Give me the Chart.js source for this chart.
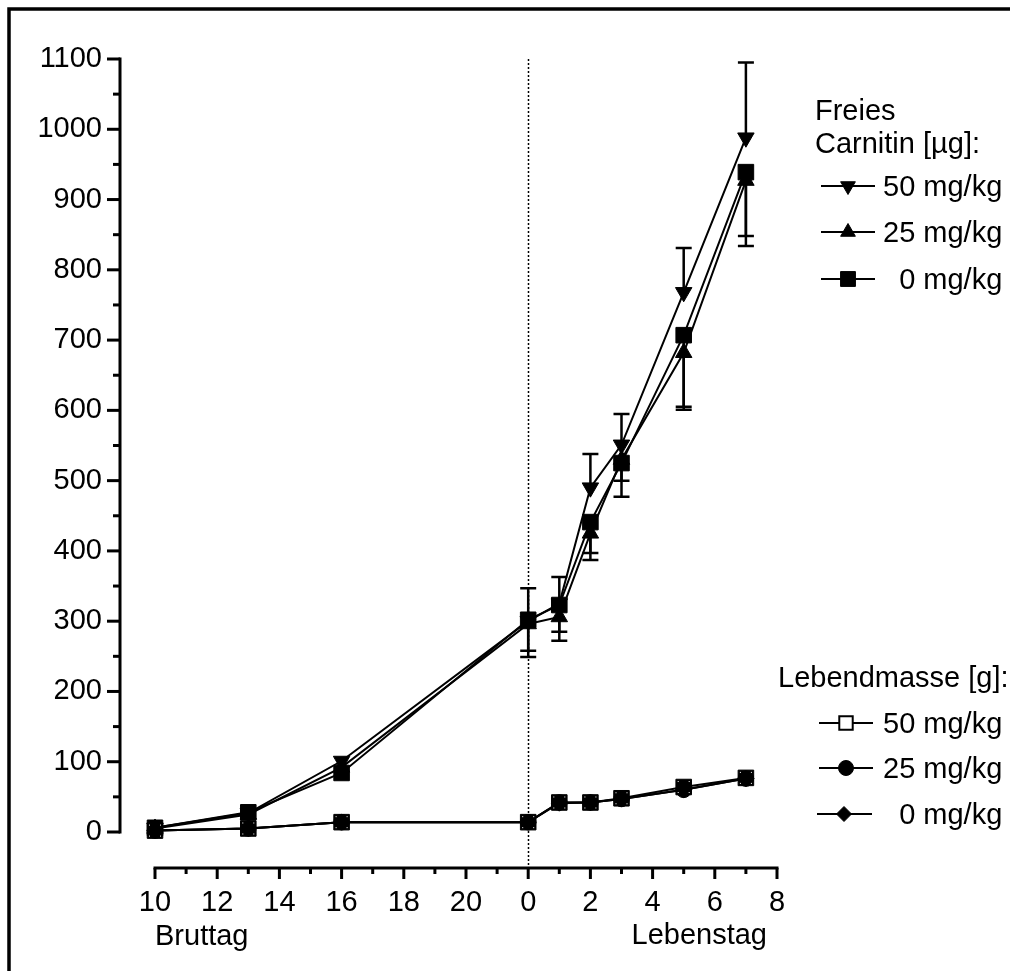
<!DOCTYPE html>
<html><head><meta charset="utf-8">
<script src="https://cdn.jsdelivr.net/npm/chart.js@4/dist/chart.umd.min.js"></script>
<style>html,body{margin:0;padding:0;background:#fff;} canvas{display:block;}</style>
</head><body>
<canvas id="c" width="1010" height="971"></canvas>
<script>
// ---- data ----
const dayLabels = ['Bruttag 10','Bruttag 13','Bruttag 16','Lebenstag 0','Lebenstag 1','Lebenstag 2','Lebenstag 3','Lebenstag 5','Lebenstag 7'];
const xPositions = [10, 13, 16, 22, 23, 24, 25, 27, 29]; // Bruttag d -> d, Lebenstag d -> 22 + d
const hatchPosition = 22;

const carnitin50 = [6, 27, 101, 300, 325, 490, 551, 768, 988];
const carnitin50ErrUp = [0, 0, 0, 47, 38, 48, 44, 63, 107];
const carnitin25 = [5, 25, 92, 296, 306, 425, 530, 682, 927];
const carnitin25ErrDown = [0, 0, 0, 47, 34, 38, 30, 81, 93];
const carnitin0 = [6, 28, 84, 302, 323, 441, 525, 707, 939];
const carnitin0ErrDown = [0, 0, 0, 44, 38, 44, 48, 102, 91];

const mass50 = [2, 5, 14, 14, 42, 42, 48, 64, 77];
const mass25 = [2, 5, 14, 14, 42, 42, 47, 60, 76];
const mass0  = [2, 5, 14, 14, 41, 42, 47, 60, 76];

const xTickValues = [10, 12, 14, 16, 18, 20, 22, 24, 26, 28, 30];
const xTickLabels = ['10', '12', '14', '16', '18', '20', '0', '2', '4', '6', '8'];
const yTickValues = [0, 100, 200, 300, 400, 500, 600, 700, 800, 900, 1000, 1100];
const yTickLabels = ['0', '100', '200', '300', '400', '500', '600', '700', '800', '900', '1000', '1100'];

const carnitinTitle = ['Freies', 'Carnitin [µg]:'];
const massTitle = 'Lebendmasse [g]:';
const doseLabels = ['50 mg/kg', '25 mg/kg', '0 mg/kg'];

const FONT = "'Liberation Sans', Arial, Helvetica, sans-serif";
const FS = 29;
Chart.defaults.font.family = FONT;
Chart.defaults.font.size = FS;
Chart.defaults.color = '#000';

function pts(vals) { return vals.map((v, i) => ({ x: xPositions[i], y: v })); }

const base = { borderColor: '#000', borderWidth: 2, pointBorderColor: '#000', pointBackgroundColor: '#000', pointBorderWidth: 1, tension: 0, clip: false };

const datasets = [
  Object.assign({}, base, { label: 'Carnitin 50 mg/kg', data: pts(carnitin50), errUp: carnitin50ErrUp, pointStyle: 'triangle', pointRotation: 180, pointRadius: 9.5 }),
  Object.assign({}, base, { label: 'Carnitin 25 mg/kg', data: pts(carnitin25), errDown: carnitin25ErrDown, pointStyle: 'triangle', pointRadius: 9.5 }),
  Object.assign({}, base, { label: 'Carnitin 0 mg/kg', data: pts(carnitin0), errDown: carnitin0ErrDown, pointStyle: 'rect', pointRadius: 11 }),
  Object.assign({}, base, { label: 'Lebendmasse 0 mg/kg', data: pts(mass0), pointStyle: 'rectRot', pointRadius: 8 }),
  Object.assign({}, base, { label: 'Lebendmasse 25 mg/kg', data: pts(mass25), pointStyle: 'circle', pointRadius: 7.8 }),
  Object.assign({}, base, { label: 'Lebendmasse 50 mg/kg', data: pts(mass50), pointStyle: 'rect', pointRadius: 11, pointBackgroundColor: '#000', pointBorderWidth: 1 })
];

const decorPlugin = {
  id: 'decor',
  beforeDatasetsDraw(chart) {
    const ctx = chart.ctx, xs = chart.scales.x, ys = chart.scales.y;
    const axisY = ys.bottom + 36;
    ctx.save();
    ctx.strokeStyle = '#000'; ctx.lineWidth = 1.5; ctx.setLineDash([2, 2]);
    const hx = Math.round(xs.getPixelForValue(hatchPosition)) + 0.5;
    ctx.beginPath(); ctx.moveTo(hx, ys.getPixelForValue(1100)); ctx.lineTo(hx, axisY); ctx.stroke();
    ctx.setLineDash([]);
    ctx.lineWidth = 2.5;
    chart.data.datasets.forEach(ds => {
      ['errUp', 'errDown'].forEach(k => {
        if (!ds[k]) return;
        ds[k].forEach((e, i) => {
          if (!e) return;
          const px = xs.getPixelForValue(ds.data[i].x);
          const v0 = ds.data[i].y, v1 = k === 'errUp' ? v0 + e : v0 - e;
          const p0 = ys.getPixelForValue(v0), p1 = ys.getPixelForValue(v1);
          ctx.beginPath(); ctx.moveTo(px, p0); ctx.lineTo(px, p1);
          ctx.moveTo(px - 8, p1); ctx.lineTo(px + 8, p1); ctx.stroke();
        });
      });
    });
    ctx.restore();
  },
  afterDatasetsDraw(chart) {
    const ctx = chart.ctx, xs = chart.scales.x, ys = chart.scales.y;
    ctx.save();
    ctx.fillStyle = '#fff';
    mass50.forEach((v, i) => {
      const px = xs.getPixelForValue(xPositions[i]), py = ys.getPixelForValue(v);
      [[-1, -1], [1, -1], [-1, 1], [1, 1]].forEach(([sx, sy]) => ctx.fillRect(px + sx * 5.5 - 0.5, py + sy * 5.5 - 0.5, 1, 1));
    });
    ctx.restore();
  },
  afterDraw(chart) {
    const ctx = chart.ctx, xs = chart.scales.x, ys = chart.scales.y;
    ctx.save();
    ctx.strokeStyle = '#000'; ctx.fillStyle = '#000';
    ctx.lineWidth = 3.5;
    ctx.beginPath(); ctx.moveTo(9, 971); ctx.lineTo(9, 9); ctx.lineTo(1010, 9); ctx.stroke();
    const yAxisX = 120;
    ctx.lineWidth = 3;
    ctx.beginPath(); ctx.moveTo(yAxisX, ys.getPixelForValue(1100) - 1.5); ctx.lineTo(yAxisX, ys.getPixelForValue(0) + 1.5); ctx.stroke();
    for (let v = 0; v <= 1100; v += 50) {
      const py = ys.getPixelForValue(v);
      const len = v % 100 === 0 ? 13 : 7;
      ctx.beginPath(); ctx.moveTo(yAxisX, py); ctx.lineTo(yAxisX - len, py); ctx.stroke();
    }
    const axisY = ys.bottom + 36;
    ctx.beginPath(); ctx.moveTo(xs.getPixelForValue(10) - 1.5, axisY); ctx.lineTo(xs.getPixelForValue(30) + 1.5, axisY); ctx.stroke();
    for (let v = 10; v <= 30; v += 1) {
      const px = xs.getPixelForValue(v);
      const len = v % 2 === 0 ? 11 : 6;
      ctx.beginPath(); ctx.moveTo(px, axisY); ctx.lineTo(px, axisY + len); ctx.stroke();
    }
    ctx.font = FS + 'px ' + FONT;
    ctx.textBaseline = 'alphabetic';
    ctx.textAlign = 'left';
    ctx.fillText('Bruttag', 155, 945);
    ctx.textAlign = 'right';
    ctx.fillText('Lebenstag', 767, 944);
    ctx.textAlign = 'left';
    ctx.fillText(carnitinTitle[0], 815, 120);
    ctx.fillText(carnitinTitle[1], 815, 153);
    ctx.fillText(massTitle, 778, 687);
    const textLeft = 883;
    const fullW = ctx.measureText(doseLabels[0]).width;
    function item(y, x0, x1, mx, style, label) {
      ctx.lineWidth = 2; ctx.strokeStyle = '#000';
      ctx.beginPath(); ctx.moveTo(x0, y); ctx.lineTo(x1, y); ctx.stroke();
      ctx.fillStyle = style.fill || '#000';
      ctx.lineWidth = style.borderWidth;
      Chart.helpers.drawPoint(ctx, { pointStyle: style.pointStyle, radius: style.radius, rotation: style.rotation || 0, borderWidth: style.borderWidth }, mx, y);
      ctx.fillStyle = '#000';
      ctx.textAlign = 'right';
      ctx.fillText(label, textLeft + fullW, y + 10);
    }
    item(186, 821, 875, 848, { pointStyle: 'triangle', rotation: 180, radius: 8.5, borderWidth: 1 }, doseLabels[0]);
    item(232, 821, 875, 848, { pointStyle: 'triangle', radius: 8.5, borderWidth: 1 }, doseLabels[1]);
    item(279, 821, 875, 848, { pointStyle: 'rect', radius: 10.5, borderWidth: 1 }, doseLabels[2]);
    item(723, 819, 873, 846, { pointStyle: 'rect', radius: 9.5, borderWidth: 2, fill: '#fff' }, doseLabels[0]);
    item(768, 819, 873, 846, { pointStyle: 'circle', radius: 7.5, borderWidth: 1 }, doseLabels[1]);
    item(814, 817, 872, 844, { pointStyle: 'rectRot', radius: 7.5, borderWidth: 1 }, doseLabels[2]);
    ctx.restore();
  }
};

new Chart(document.getElementById('c'), {
  type: 'line',
  data: { datasets },
  options: {
    responsive: false,
    animation: false,
    events: [],
    layout: { padding: { top: 59, right: 233, left: 0, bottom: 0 } },
    plugins: { legend: { display: false }, tooltip: { enabled: false } },
    scales: {
      x: {
        type: 'linear', min: 10, max: 30,
        grid: { display: false, drawTicks: false }, border: { display: false },
        afterBuildTicks: s => { s.ticks = xTickValues.map(v => ({ value: v })); },
        afterFit: s => { s.height = 139; s.paddingLeft = 20; s.paddingRight = 20; },
        ticks: { autoSkip: false, maxRotation: 0, padding: 54,
          callback: (v) => { const i = xTickValues.indexOf(v); return i >= 0 ? xTickLabels[i] : ''; } }
      },
      y: {
        type: 'linear', min: 0, max: 1100,
        grid: { display: false, drawTicks: false }, border: { display: false },
        afterBuildTicks: s => { s.ticks = yTickValues.map(v => ({ value: v })); },
        afterFit: s => { s.width = 155; s.paddingTop = 18; s.paddingBottom = 18; },
        ticks: { autoSkip: false, padding: 53,
          callback: (v) => { const i = yTickValues.indexOf(v); return i >= 0 ? yTickLabels[i] : ''; } }
      }
    }
  },
  plugins: [decorPlugin]
});
</script>
</body></html>
